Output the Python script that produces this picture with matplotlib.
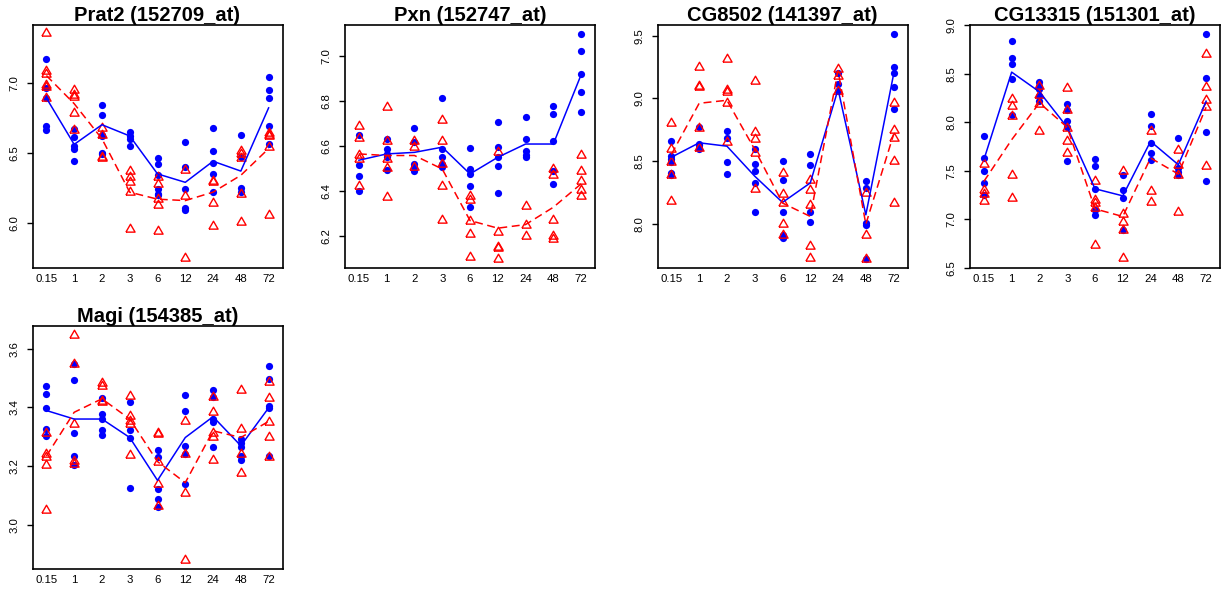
import matplotlib
matplotlib.use("Agg")
import matplotlib.pyplot as plt
from matplotlib.ticker import MultipleLocator, FormatStrFormatter

plt.rcParams['font.family'] = ['Liberation Sans', 'DejaVu Sans']

time_labels = ["0.15", "1", "2", "3", "6", "12", "24", "48", "72"]

titles = ["Prat2 (152709_at)", "Pxn (152747_at)", "CG8502 (141397_at)",
          "CG13315 (151301_at)", "Magi (154385_at)"]

# ---- Prat2 ----
prat2_blue = [[7.17, 6.96, 6.89, 6.69, 6.66], [6.67, 6.61, 6.55, 6.53, 6.44],
              [6.84, 6.77, 6.63, 6.62, 6.50, 6.49], [6.65, 6.62, 6.60, 6.55],
              [6.46, 6.42, 6.34, 6.24, 6.21, 6.20], [6.58, 6.40, 6.24, 6.11, 6.09],
              [6.68, 6.51, 6.43, 6.35, 6.22], [6.63, 6.47, 6.25, 6.22],
              [7.04, 6.95, 6.89, 6.69, 6.56]]
prat2_red = [[7.35, 7.08, 7.06, 6.98, 6.97, 6.89], [6.95, 6.91, 6.90, 6.78, 6.66],
             [6.68, 6.63, 6.47, 6.46], [6.37, 6.33, 6.29, 6.22, 5.96],
             [6.33, 6.28, 6.17, 6.13, 5.94], [6.38, 6.19, 5.75],
             [6.30, 6.29, 6.14, 5.98], [6.51, 6.49, 6.46, 6.21, 6.01],
             [6.64, 6.63, 6.62, 6.54, 6.06]]
prat2_blue_mean = [6.89, 6.56, 6.70, 6.62, 6.35, 6.29, 6.44, 6.37, 6.82]
prat2_red_mean = [7.05, 6.85, 6.60, 6.22, 6.17, 6.16, 6.22, 6.34, 6.53]

# ---- Pxn ----
pxn_blue = [[6.649, 6.516, 6.467, 6.40], [6.63, 6.585, 6.563, 6.548, 6.49],
            [6.678, 6.615, 6.52, 6.504, 6.489], [6.81, 6.585, 6.548, 6.519, 6.504],
            [6.588, 6.496, 6.474, 6.419, 6.326], [6.704, 6.596, 6.548, 6.508, 6.388],
            [6.729, 6.63, 6.578, 6.56, 6.548], [6.778, 6.741, 6.622, 6.489, 6.43],
            [7.096, 7.019, 6.919, 6.837, 6.748]]
pxn_red = [[6.689, 6.634, 6.56, 6.54, 6.42], [6.773, 6.62, 6.54, 6.50, 6.37],
           [6.62, 6.593, 6.504], [6.714, 6.619, 6.519, 6.422, 6.27],
           [6.378, 6.358, 6.267, 6.207, 6.107], [6.57, 6.215, 6.151, 6.145, 6.096],
           [6.333, 6.249, 6.20], [6.496, 6.47, 6.27, 6.20, 6.185],
           [6.56, 6.489, 6.444, 6.403, 6.378]]
pxn_blue_mean = [6.535, 6.563, 6.57, 6.593, 6.474, 6.548, 6.607, 6.607, 6.915]
pxn_red_mean = [6.563, 6.556, 6.556, 6.496, 6.267, 6.233, 6.249, 6.326, 6.43]

# ---- CG8502 ----
cg8502_blue = [[8.659, 8.539, 8.518, 8.491, 8.406, 8.392], [8.771, 8.638, 8.627, 8.606, 8.593],
               [8.739, 8.686, 8.491, 8.398], [8.593, 8.48, 8.424, 8.326, 8.094],
               [8.5, 8.352, 8.094, 7.912, 7.891], [8.558, 8.473, 8.094, 8.013],
               [9.206, 9.118, 9.06], [8.339, 8.286, 8.005, 7.987, 7.72],
               [9.513, 9.252, 9.206, 9.092, 8.913]]
cg8502_red = [[8.806, 8.593, 8.491, 8.387, 8.184], [9.252, 9.10, 9.092, 8.766, 8.606],
              [9.313, 9.065, 9.054, 8.966, 8.654], [9.14, 8.731, 8.673, 8.566, 8.28],
              [8.406, 8.238, 8.166, 7.997, 7.912], [8.352, 8.272, 8.147, 7.827, 7.725],
              [9.233, 9.18, 9.06], [8.246, 7.912, 7.72],
              [8.966, 8.745, 8.686, 8.5, 8.166]]
cg8502_blue_mean = [8.531, 8.646, 8.619, 8.38, 8.171, 8.326, 9.073, 8.072, 9.193]
cg8502_red_mean = [8.553, 8.961, 8.985, 8.593, 8.166, 8.059, 9.22, 7.997, 8.713]

# ---- CG13315 ----
cg13315_blue = [[7.855, 7.631, 7.493, 7.372, 7.245], [8.838, 8.666, 8.603, 8.441, 8.072],
                [8.414, 8.372, 8.338, 8.269, 8.217], [8.19, 8.131, 8.017, 7.948, 7.597],
                [7.624, 7.545, 7.314, 7.097, 7.045], [7.459, 7.297, 7.224, 6.89],
                [8.086, 7.959, 7.786, 7.683, 7.614], [7.838, 7.528, 7.486, 7.452],
                [8.907, 8.452, 7.897, 7.397]]
cg13315_red = [[7.569, 7.303, 7.259, 7.19], [8.245, 8.166, 8.062, 7.459, 7.224],
               [8.372, 8.286, 8.193, 7.914], [8.355, 8.131, 7.941, 7.81, 7.683],
               [7.39, 7.2, 7.166, 7.114, 6.734], [7.5, 7.052, 6.969, 6.89, 6.597],
               [7.907, 7.293, 7.176], [7.717, 7.555, 7.459, 7.079],
               [8.7, 8.362, 8.228, 8.155, 7.545]]
cg13315_blue_mean = [7.614, 8.517, 8.314, 7.948, 7.314, 7.241, 7.803, 7.562, 8.217]
cg13315_red_mean = [7.39, 7.82, 8.2, 7.948, 7.107, 7.028, 7.631, 7.466, 8.155]

# ---- Magi ----
magi_blue = [[3.474, 3.446, 3.398, 3.326, 3.301], [3.549, 3.494, 3.314, 3.234, 3.203],
             [3.432, 3.377, 3.36, 3.322, 3.305], [3.417, 3.322, 3.297, 3.126],
             [3.254, 3.229, 3.12, 3.086, 3.059], [3.443, 3.389, 3.269, 3.242, 3.137],
             [3.459, 3.434, 3.36, 3.349, 3.263], [3.291, 3.277, 3.263, 3.234, 3.219],
             [3.539, 3.497, 3.406, 3.398, 3.234]]
magi_red = [[3.314, 3.24, 3.231, 3.203, 3.049], [3.646, 3.546, 3.343, 3.217, 3.206],
            [3.482, 3.474, 3.423, 3.417], [3.437, 3.371, 3.354, 3.343, 3.238],
            [3.314, 3.309, 3.215, 3.137, 3.063], [3.354, 3.24, 3.109, 2.88],
            [3.434, 3.383, 3.314, 3.299, 3.219], [3.459, 3.326, 3.242, 3.177],
            [3.486, 3.432, 3.349, 3.299, 3.229]]
magi_blue_mean = [3.389, 3.36, 3.36, 3.297, 3.151, 3.297, 3.368, 3.269, 3.398]
magi_red_mean = [3.234, 3.383, 3.429, 3.36, 3.215, 3.143, 3.32, 3.297, 3.352]

# y-axis ranges
y_limits = [(5.68, 7.41), (6.056, 7.136), (7.648, 9.585), (6.497, 9.003), (2.849, 3.677)]
y_steps = [0.5, 0.2, 0.5, 0.5, 0.2]

panels = [
    (titles[0], prat2_blue, prat2_red, prat2_blue_mean, prat2_red_mean),
    (titles[1], pxn_blue, pxn_red, pxn_blue_mean, pxn_red_mean),
    (titles[2], cg8502_blue, cg8502_red, cg8502_blue_mean, cg8502_red_mean),
    (titles[3], cg13315_blue, cg13315_red, cg13315_blue_mean, cg13315_red_mean),
    (titles[4], magi_blue, magi_red, magi_blue_mean, magi_red_mean),
]

W, H = 1226, 592
fig = plt.figure(figsize=(W / 100, H / 100), dpi=100)
fig.patch.set_facecolor("white")

col_left = [32.5, 345, 657.5, 970]
ax_w = 250
row_top = [25, 326]
ax_h = 243

BLUE = "#0000FF"
RED = "#FF0000"
# equilateral open triangle like R's pch = 2
TRI = [(-1.0, -0.577), (1.0, -0.577), (0.0, 1.155), (-1.0, -0.577)]

for i, (title, blue, red, bmean, rmean) in enumerate(panels):
    r, c = divmod(i, 4)
    left = col_left[c]
    top = row_top[r]
    ax = fig.add_axes([left / W, 1 - (top + ax_h) / H, ax_w / W, ax_h / H])
    pos = list(range(1, len(time_labels) + 1))

    for p, vals in zip(pos, blue):
        ax.plot([p] * len(vals), vals, linestyle="none", marker="o",
                markersize=5.2, color=BLUE, markeredgewidth=0, zorder=2)
    for p, vals in zip(pos, red):
        ax.plot([p] * len(vals), vals, linestyle="none", marker=TRI,
                markersize=7.6, markerfacecolor="none", markeredgecolor=RED,
                markeredgewidth=1.0, zorder=3)
    ax.plot(pos, bmean, color=BLUE, lw=1.1, zorder=4)
    ax.plot(pos, rmean, color=RED, lw=1.1, linestyle=(0, (5.2, 3.0)), zorder=5)

    ax.set_ylim(*y_limits[i])
    ax.set_xlim(0.5, 9.5)

    ax.set_xticks(pos)
    ax.set_xticklabels(time_labels)
    ax.set_xticks([2, 4, 6, 8], minor=True)
    ax.tick_params(axis="x", which="major", length=0, pad=4.0, labelsize=8.2)
    ax.tick_params(axis="x", which="minor", length=4.3, width=1.0, direction="out")
    ax.yaxis.set_major_locator(MultipleLocator(y_steps[i]))
    ax.yaxis.set_major_formatter(FormatStrFormatter("%.1f"))
    ax.tick_params(axis="y", which="major", length=4.5, width=1.0, pad=5.0,
                   labelsize=8.2, direction="out")
    for lab in ax.get_yticklabels():
        lab.set_rotation(90)
        lab.set_va("center")
    ax.yaxis.set_minor_locator(plt.NullLocator())
    for s in ax.spines.values():
        s.set_linewidth(1.2)
    ax.set_title(title, fontsize=14.5, fontweight="bold", pad=2.5)

fig.savefig("out.png", dpi=100, facecolor="white")
